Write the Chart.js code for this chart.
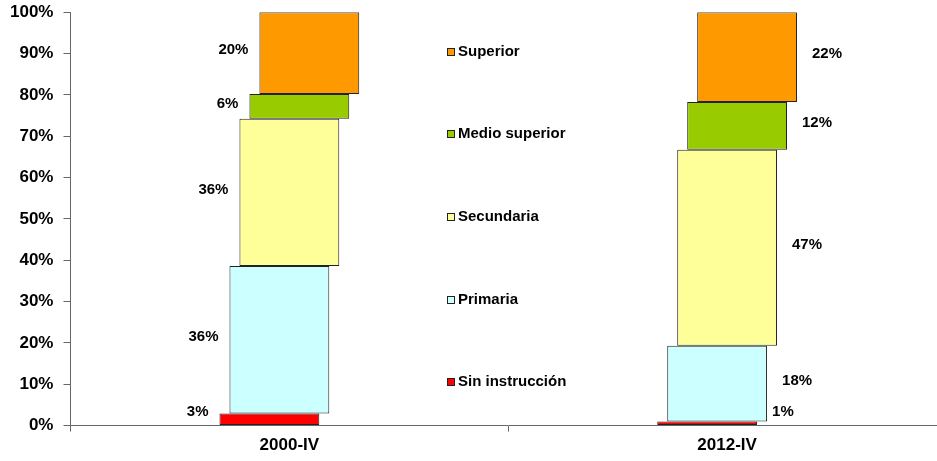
<!DOCTYPE html>
<html>
<head>
<meta charset="utf-8">
<script src="https://cdn.jsdelivr.net/npm/chart.js@4/dist/chart.umd.min.js"></script>
<style>
  html, body { margin: 0; padding: 0; background: #fff; overflow: hidden; }
  canvas { display: block; margin-top: -8px; }
</style>
</head>
<body>
<canvas id="chart" width="960" height="469"></canvas>
<script>
// data (share of each level, %)
const periods = ["2000-IV", "2012-IV"];
const levels = ["Sin instrucción", "Primaria", "Secundaria", "Medio superior", "Superior"];
const sinInstruccion = [2.9, 1.0];
const primaria = [35.7, 18.3];
const secundaria = [35.6, 47.4];
const medioSuperior = [6.0, 11.6];
const superior = [19.8, 21.7];
const yTicks = [0, 10, 20, 30, 40, 50, 60, 70, 80, 90, 100];
const colors = ["#FF0000", "#CCFFFF", "#FFFF99", "#99CC00", "#FF9900"];

const series = [sinInstruccion, primaria, secundaria, medioSuperior, superior];
const FONT = "'Liberation Sans', Arial, sans-serif";

// build floating bars: each level sits on top of the previous ones
let running = periods.map(() => 0);
const datasets = series.map((vals, i) => {
  const data = vals.map((v, j) => {
    const from = running[j];
    running[j] = from + v;
    return [from, from + v];
  });
  return {
    label: levels[i],
    data: data,
    rawValues: vals,
    backgroundColor: colors[i],
    borderColor: "#222",
    borderWidth: 1,
    borderSkipped: false,
    categoryPercentage: 0.114,
    barPercentage: 10,
  };
});

const valueLabels = {
  id: "valueLabels",
  afterDatasetsDraw(chart) {
    const ctx = chart.ctx;
    ctx.save();
    ctx.font = "bold 15px " + FONT;
    ctx.fillStyle = "#000";
    ctx.textBaseline = "middle";
    chart.data.datasets.forEach((ds, i) => {
      const meta = chart.getDatasetMeta(i);
      meta.data.forEach((bar, j) => {
        const top = Math.min(bar.y, bar.base);
        const bottom = Math.max(bar.y, bar.base);
        let y = Math.min((top + bottom) / 2 - 3, bottom - 13);
        const txt = Math.round(ds.rawValues[j]) + "%";
        if (j === 0) {
          ctx.textAlign = "right";
          ctx.fillText(txt, bar.x - bar.width / 2 - 11, y);
        } else {
          ctx.textAlign = "left";
          ctx.fillText(txt, bar.x + bar.width / 2 + 15, y);
        }
      });
    });
    ctx.restore();
  },
};

// legend sits between the two columns, one entry per 20% band
const sideLegend = {
  id: "sideLegend",
  afterDraw(chart) {
    const ctx = chart.ctx;
    const xs = chart.scales.x;
    const ys = chart.scales.y;
    const mid = (xs.getPixelForValue(0) + xs.getPixelForValue(1)) / 2;
    const bx = Math.round(mid - 61);
    ctx.save();
    ctx.font = "bold 15px " + FONT;
    ctx.textBaseline = "middle";
    ctx.textAlign = "left";
    levels.forEach((name, i) => {
      const y = Math.round(ys.getPixelForValue(10 + i * 20) - 2);
      ctx.fillStyle = colors[i];
      ctx.fillRect(bx, y - 4, 8, 8);
      ctx.strokeStyle = "#222";
      ctx.lineWidth = 1;
      ctx.strokeRect(bx + 0.5, y - 3.5, 7, 7);
      ctx.fillStyle = "#000";
      ctx.fillText(name, bx + 11, y);
    });
    ctx.restore();
  },
};

const whiteBg = {
  id: "whiteBg",
  beforeDraw(chart) {
    const ctx = chart.ctx;
    ctx.save();
    ctx.fillStyle = "#fff";
    ctx.fillRect(0, 0, chart.width, chart.height);
    ctx.restore();
  },
};

new Chart(document.getElementById("chart"), {
  type: "bar",
  data: { labels: periods, datasets: datasets },
  options: {
    responsive: false,
    animation: false,
    layout: { padding: { left: 0, right: 14, top: 4, bottom: 1 } },
    plugins: {
      legend: { display: false },
      tooltip: { enabled: false },
    },
    scales: {
      x: {
        offset: true,
        grid: {
          offset: true,
          drawOnChartArea: false,
          tickLength: 6,
          color: "#666",
        },
        border: { color: "#666", width: 1 },
        ticks: {
          color: "#000",
          font: { family: FONT, size: 17, weight: "bold" },
          padding: 4,
        },
      },
      y: {
        min: 0,
        max: 100,
        afterBuildTicks(scale) {
          scale.ticks = yTicks.map((v) => ({ value: v }));
        },
        grid: {
          drawOnChartArea: false,
          tickLength: 7,
          color: "#666",
        },
        border: { color: "#666", width: 1 },
        ticks: {
          color: "#000",
          padding: 10,
          font: { family: FONT, size: 17, weight: "bold" },
          callback: (v) => v + "%",
        },
      },
    },
  },
  plugins: [whiteBg, valueLabels, sideLegend],
});
</script>
</body>
</html>
